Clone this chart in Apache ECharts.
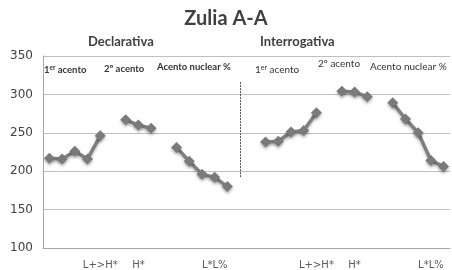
<!DOCTYPE html>
<html>
<head>
<meta charset="utf-8">
<script src="https://cdn.jsdelivr.net/npm/echarts@6/dist/echarts.min.js"></script>
<style>
  html, body { margin: 0; padding: 0; background: #fff; }
  #main { width: 452px; height: 270px; }
</style>
</head>
<body>
<div id="main"></div>
<script>
// datos
var declarativa = [217, 216, 226, 216, 246, null, 267, 260, 256, null, 231, 213, 196, 192, 180];
var interrogativa = [238, 239, 251, 253, 276, null, 304, 303, 297, null, 289, 268, 250, 214, 206];
var gap = [null, null];
var tickLabels = ['', '', '', '', 'L+>H*', '', '', 'H*', '', '', '', '', '', 'L*L%', '', '',
                  '', '', '', '', '', 'L+>H*', '', '', 'H*', '', '', '', '', '', 'L*L%', ''];
var yTicks = [100, 150, 200, 250, 300, 350];

var values = declarativa.concat(gap, interrogativa);
var font = 'Lato, "Open Sans", sans-serif';

// texto pequeño encima de cada tramo
function label(x, y, bold, size, parts) {
  var w = bold ? 'bold' : 'normal';
  return {
    type: 'text', left: x, top: y, silent: true,
    style: {
      text: parts, fill: '#333',
      rich: {
        a: { fontSize: size, fontWeight: w, fontFamily: font, fill: '#333' },
        s: { fontSize: size - 3, fontWeight: w, fontFamily: font, fill: '#333', verticalAlign: 'top', padding: [0, 0, 4, 0] }
      }
    }
  };
}

var myChart = echarts.init(document.getElementById('main'));
var option = {
  animation: false,
  title: {
    text: 'Zulia A-A', left: 'center', top: 4,
    textStyle: { fontFamily: font, fontSize: 20, fontWeight: 'bold', color: '#404040' }
  },
  graphic: [
    { type: 'text', left: 88, top: 35, style: { text: 'Declarativa', font: 'bold 13px ' + font, fill: '#404040' } },
    { type: 'text', left: 260, top: 35, style: { text: 'Interrogativa', font: 'bold 13px ' + font, fill: '#404040' } },
    label(44, 64, true, 9.5, '{a|1}{s|er}{a| acento}'),
    label(104, 64, true, 9.5, '{a|2º acento}'),
    label(157, 62, true, 9.5, '{a|Acento nuclear %}'),
    label(255, 64, false, 10, '{a|1}{s|er}{a| acento}'),
    label(318, 59, false, 10, '{a|2º acento}'),
    label(370, 62, false, 10, '{a|Acento nuclear %}')
  ],
  grid: { left: 43, right: 2, top: 56, bottom: 22 },
  xAxis: {
    type: 'category',
    data: tickLabels,
    boundaryGap: true,
    axisTick: { show: false },
    axisLine: { lineStyle: { color: '#a6a6a6' } },
    axisLabel: { interval: 0, fontSize: 10, color: '#595959', margin: 12, fontFamily: 'DejaVu Sans' }
  },
  yAxis: {
    type: 'value',
    min: yTicks[0], max: yTicks[yTicks.length - 1], interval: 50,
    axisLine: { show: true, lineStyle: { color: '#a6a6a6' } },
    axisTick: { show: false },
    axisLabel: { fontSize: 12, color: '#404040', margin: 10, fontFamily: 'DejaVu Sans' },
    splitLine: { lineStyle: { color: '#bfbfbf' } }
  },
  series: [{
    type: 'line',
    data: values,
    connectNulls: false,
    symbol: 'diamond',
    symbolSize: 11,
    lineStyle: { color: '#7f7f7f', width: 3.5, shadowBlur: 3, shadowColor: 'rgba(0,0,0,0.25)', shadowOffsetY: 2 },
    itemStyle: { color: '#7a7a7a', shadowBlur: 3, shadowColor: 'rgba(0,0,0,0.3)', shadowOffsetY: 2 },
    markLine: {
      silent: true, symbol: 'none', label: { show: false },
      lineStyle: { color: '#555', type: [2, 1], width: 1 },
      data: [[{ coord: [15, 316] }, { coord: [15, 192] }]]
    }
  }]
};
myChart.setOption(option);
</script>
</body>
</html>
